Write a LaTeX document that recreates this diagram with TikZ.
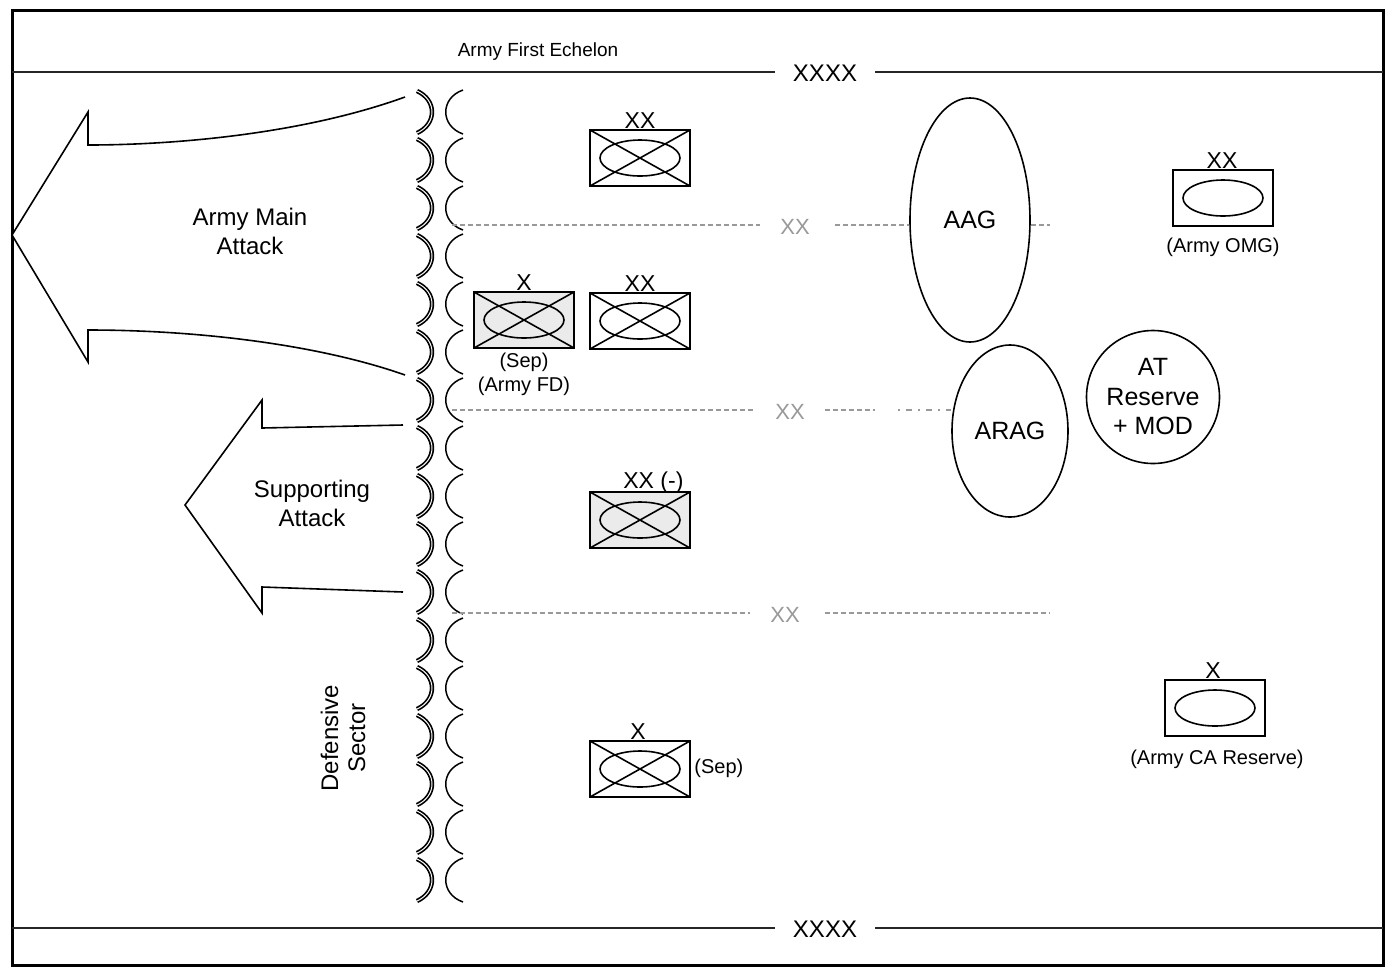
\documentclass[tikz,border=0pt]{standalone}
\usepackage{fontspec}
\setmainfont{Liberation Sans}
\usetikzlibrary{shapes.geometric}
\tikzset{
  txt/.style={align=center, inner sep=0pt, font=\fontsize{12}{14.5}\selectfont},
  small/.style={align=center, inner sep=0pt, font=\fontsize{10}{12}\selectfont},
  ech/.style={inner sep=0pt, font=\fontsize{11.5}{13}\selectfont},
  gxx/.style={inner sep=0pt, font=\fontsize{11}{13}\selectfont, text=black!40},
  bnd/.style={draw=black!40, line width=0.6pt, dash pattern=on 2.5pt off 1.5pt},
  frontier/.style={draw=black!85, line width=1pt},
  unitbox/.style={draw, line width=1pt, minimum width=50pt, minimum height=28pt, inner sep=0pt,
    path picture={
      \draw[line width=0.8pt] (path picture bounding box.north west)--(path picture bounding box.south east)
        (path picture bounding box.south west)--(path picture bounding box.north east);
      \draw[line width=0.8pt] (path picture bounding box.center) ellipse [x radius=20pt, y radius=9pt];}},
  omgbox/.style={draw, line width=0.8pt, minimum width=50pt, minimum height=28pt, inner sep=0pt,
    path picture={
      \draw[line width=0.8pt] (path picture bounding box.center) ellipse [x radius=20pt, y radius=9pt];}},
  blob/.style={draw, ellipse, line width=0.8pt, inner sep=0pt, align=center, font=\fontsize{12.5}{14.75}\selectfont},
  arrowshape/.style={draw, line width=0.8pt, fill=white, line join=miter},
  wireout/.style={draw, line width=0.85pt, double, double distance=0.5pt},
  wirein/.style={draw, line width=0.75pt},
}
\begin{document}
\begin{tikzpicture}[x=0.5pt,y=-0.5pt]
\useasboundingbox (0,0) rectangle (1389,966);
\fill[white] (0,0) rectangle (1389,966);

% frame
\draw[line width=1.5pt] (12,10) rectangle (1383,965);

% army boundaries
\node[inner sep=0pt, font=\fontsize{9.5}{11}\selectfont] (afe) at (538,52) {Army First Echelon};
\node[inner sep=2pt, font=\fontsize{12}{14}\selectfont] (bt) at (825,73) {XXXX};
\coordinate (btl) at (12,72);
\coordinate (btr) at (1383,72);
\draw[frontier] (btl) -- (775,72);
\draw[frontier] (875,72) -- (btr);
\node[inner sep=2pt, font=\fontsize{12}{14}\selectfont] (bb) at (825,929) {XXXX};
\coordinate (bbl) at (12,928);
\coordinate (bbr) at (1383,928);
\draw[frontier] (bbl) -- (775,928);
\draw[frontier] (875,928) -- (bbr);

% main attack arrow
\draw[arrowshape] (405,97) .. controls (300,135) and (170,145) .. (88,145) -- (88,112) -- (12,235)
  -- (88,362) -- (88,330) .. controls (200,330) and (320,345) .. (405,375);
\node[txt] (mainatk) at (250,231) {Army Main\\Attack};

% supporting attack arrow
\draw[arrowshape] (403,425) -- (262,428) -- (262,400) -- (185,505) -- (262,613) -- (262,587) -- (403,592);
\node[txt] (supatk) at (312,503) {Supporting\\Attack};

% defensive line arcs
\foreach \k in {0,...,16} {
  \pgfmathsetmacro{\c}{112+48*\k}
  \draw[wireout] (417,\c-21) .. controls (437,\c-12) and (437,\c+12) .. (417,\c+21);
  \draw[wirein] (463,\c-22) .. controls (440,\c-14) and (440,\c+14) .. (463,\c+22);
}
\node[txt, rotate=90, font=\fontsize{12}{13.5}\selectfont] (defsec) at (343,738) {Defensive\\Sector};

% ellipses
\node[blob, minimum width=60pt, minimum height=122pt] (aag) at (970,220) {AAG};
\node[blob, minimum width=58pt, minimum height=86pt] (arag) at (1010,431) {ARAG};
\node[blob, circle, minimum size=66.5pt] (atres) at (1153,397) {AT\\Reserve\\+ MOD};

% division boundaries
\node[gxx] (xx1) at (795,227) {XX};
\coordinate (b1l) at (452,225);
\coordinate (b1r) at (1050,225);
\draw[bnd] (b1l) -- (760,225);
\draw[bnd] (835,225) -- (b1l -| aag.west);
\draw[bnd] (b1l -| aag.east) -- (b1r);

\node[gxx] (xx2) at (790,412) {XX};
\coordinate (b2l) at (452,410);
\draw[bnd] (b2l) -- (755,410);
\draw[bnd] (825,410) -- (875,410);
\draw[bnd, dash pattern=on 1pt off 3pt on 3pt off 3pt] (898,410) -- (b2l -| arag.west);

\node[gxx] (xx3) at (785,615) {XX};
\coordinate (b3l) at (452,613);
\coordinate (b3r) at (1050,613);
\draw[bnd] (b3l) -- (750,613);
\draw[bnd] (825,613) -- (b3r);

% units
\node[unitbox] (u1) at (640,158) {};
\node[ech] (u1e) at (640,121) {XX};

\node[unitbox, fill=black!8] (u2) at (524,320) {};
\node[ech] (u2e) at (524,283) {X};
\node[small] (u2l) at (524,374) {(Sep)\\(Army FD)};

\node[unitbox] (u3) at (640,321) {};
\node[ech] (u3e) at (640,284) {XX};

\node[unitbox, fill=black!8] (u4) at (640,520) {};
\node[ech, anchor=west] (u4e) at (623,483) {XX (-)};

\node[unitbox] (u5) at (640,769) {};
\node[ech] (u5e) at (638,732) {X};
\node[small, anchor=west] (u5l) at (694,768) {(Sep)};

\node[omgbox] (omg) at (1223,198) {};
\node[ech] (omge) at (1222,161) {XX};
\node[small] (omgl) at (1223,247) {(Army OMG)};

\node[omgbox] (car) at (1215,708) {};
\node[ech] (care) at (1213,671) {X};
\node[small] (carl) at (1217,759) {(Army CA Reserve)};
\end{tikzpicture}
\end{document}
